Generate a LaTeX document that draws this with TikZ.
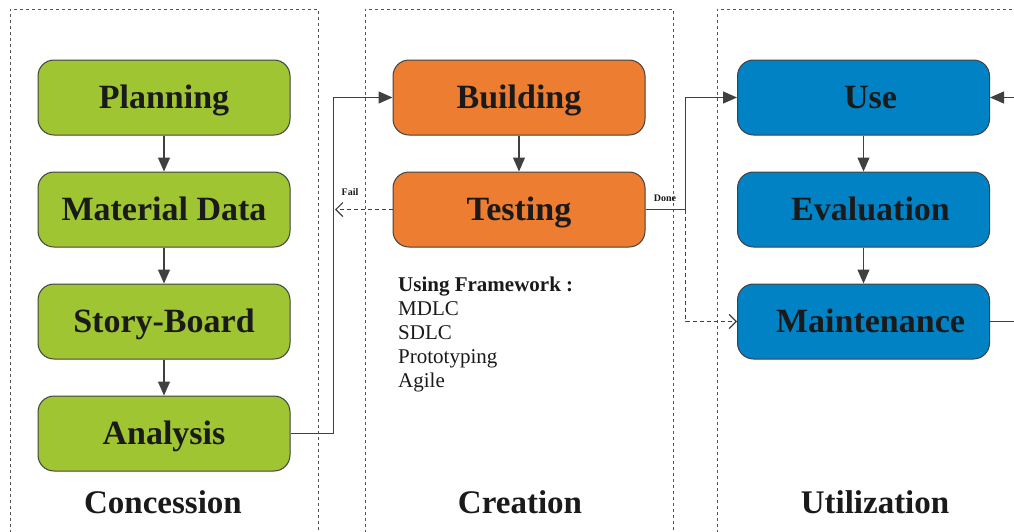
\documentclass[tikz,border=0pt]{standalone}
\usepackage{fontspec}
\setmainfont{Liberation Serif}
\usetikzlibrary{arrows.meta}

\definecolor{leaf}{RGB}{160,197,50}
\definecolor{rust}{RGB}{237,125,49}
\definecolor{sea}{RGB}{0,130,196}
\definecolor{edge}{RGB}{64,64,64}
\definecolor{ink}{RGB}{26,26,26}

\tikzset{
    stage/.style={draw=edge, line width=1pt, rounded corners=16pt,
        minimum width=252pt, minimum height=75pt, inner sep=0pt,
        text height=22pt, text depth=0pt,
        text=ink, font=\fontsize{34}{36}\selectfont\bfseries},
    flow/.style={draw=edge, line width=1.2pt, -{Triangle[length=14pt,width=12pt]}},
    retry/.style={draw=edge, line width=1.2pt, dash pattern=on 4pt off 3pt,
        -{Straight Barb[length=7pt,width=14pt]}},
    panel/.style={draw=edge!90, line width=1pt, dash pattern=on 3pt off 3pt},
    phase/.style={text=ink, font=\fontsize{33}{36}\selectfont\bfseries},
    tag/.style={text=ink, font=\fontsize{10}{11}\selectfont\bfseries}
}

\begin{document}
\begin{tikzpicture}[x=1pt, y=-1pt]
    \useasboundingbox (0,0) rectangle (1014,531);
    \clip (0,0) rectangle (1014,531);

    % dashed panels
    \draw[panel] (10,545) -- (10,9) -- (318,9) -- (318,545);
    \draw[panel] (365,545) -- (365,9) -- (673,9) -- (673,545);
    \draw[panel] (717,545) -- (717,9) -- (1020,9);

    % concession
    \node[stage, fill=leaf] (plan) at (164,97.5) {Planning};
    \node[stage, fill=leaf] (data) at (164,209.5) {Material Data};
    \node[stage, fill=leaf] (story) at (164,321.5) {Story-Board};
    \node[stage, fill=leaf] (anly) at (164,433.5) {Analysis};

    % creation
    \node[stage, fill=rust] (build) at (519,97.5) {Building};
    \node[stage, fill=rust] (test) at (519,209.5) {Testing};

    % utilization
    \node[stage, fill=sea] (use) at (863.5,97.5) {\hspace*{14pt}Use};
    \node[stage, fill=sea] (eval) at (863.5,209.5) {\hspace*{14pt}Evaluation};
    \node[stage, fill=sea] (maint) at (863.5,321.5) {\hspace*{14pt}Maintenance};

    \draw[flow] (plan) -- (data);
    \draw[flow] (data) -- (story);
    \draw[flow] (story) -- (anly);
    \draw[flow] (build) -- (test);
    \draw[flow] (use) -- (eval);
    \draw[flow] (eval) -- (maint);

    \draw[flow] (anly.east) -- ++(43,0) |- (build.west);

    \coordinate (failend) at (335,209.5);
    \draw[retry] (test.west) -- (failend);
    \node[tag] (fail) at (350,192) {Fail};

    \draw[flow] (test.east) -- ++(40,0) coordinate (split) |- (use.west);
    \draw[retry] (split) |- (maint.west);
    \node[tag] (done) at (665,198) {Done};

    \draw[flow] (maint.east) -- ++(45,0) |- (use.east);

    % framework list
    \node[anchor=north west, inner sep=0pt, align=left, text=ink,
        font=\fontsize{21}{24}\selectfont] (frame) at (398,277)
        {\textbf{Using Framework :}\\MDLC\\SDLC\\Prototyping\\Agile};

    % phase titles
    \node[phase] (con) at (163,502) {Concession};
    \node[phase] (cre) at (520,502) {Creation};
    \node[phase] (uti) at (875,502) {Utilization};
\end{tikzpicture}
\end{document}
